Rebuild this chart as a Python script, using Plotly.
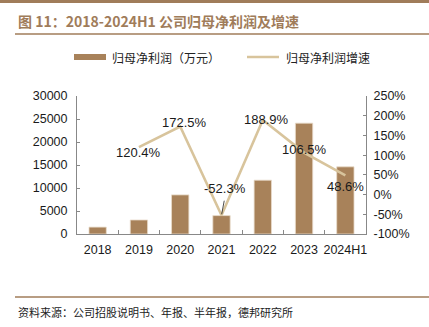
import plotly.graph_objects as go

categories = ["2018", "2019", "2020", "2021", "2022", "2023", "2024H1"]
profit = [1500, 3050, 8500, 4000, 11700, 24100, 14600]
growth_cats = ["2019", "2020", "2021", "2022", "2023", "2024H1"]
growth = [120.4, 172.5, -52.3, 188.9, 106.5, 48.6]
growth_labels = ["120.4%", "172.5%", "-52.3%", "188.9%", "106.5%", "48.6%"]
left_ticks = [0, 5000, 10000, 15000, 20000, 25000, 30000]
right_ticks = [-100, -50, 0, 50, 100, 150, 200, 250]

W, H = 429, 327
L, R, T, B = 77, 366, 96, 234

def px(x):
    return (x - L) / (R - L)

def py(y):
    return (B - y) / (B - T)

BAR = "#A8825A"
LINE = "#D8C49C"
BROWN = "#A07C5A"
CJK = "Noto Sans CJK SC"
LAT = "Liberation Sans, Arial"

fig = go.Figure()
fig.add_trace(go.Bar(x=categories, y=profit, marker=dict(color=BAR, line=dict(color="#E8DCCB", width=0.8)),
                     width=0.42, yaxis="y", name="归母净利润（万元）"))
fig.add_trace(go.Scatter(x=growth_cats, y=growth, mode="lines", line=dict(color=LINE, width=2.6),
                         yaxis="y2", name="归母净利润增速"))

# data labels (annotation x given as category index)
offsets = {"120.4%": (0, -5), "172.5%": (4, 4), "-52.3%": (3, 27), "188.9%": (4, 1),
           "106.5%": (0, 3), "48.6%": (0, -11)}
for c, v, t in zip(growth_cats, growth, growth_labels):
    dx, dy = offsets[t]
    fig.add_annotation(x=categories.index(c), y=v, xref="x", yref="y2", text=t, showarrow=False,
                       xshift=dx, yshift=dy, font=dict(family=LAT, size=13, color="#1a1a1a"))
# leader line for -52.3%
fig.add_annotation(x=categories.index("2021"), y=-52.3, xref="x", yref="y2", text="", showarrow=True,
                   arrowhead=0, arrowwidth=0.8, arrowcolor="#222", ax=3, ay=-16, standoff=1)

fig.update_layout(
    width=W, height=H,
    margin=dict(l=L, r=W - R, t=T, b=H - B, autoexpand=False),
    paper_bgcolor="white", plot_bgcolor="white",
    showlegend=False,
    xaxis=dict(type="category", range=[-0.5, 6.5], showline=True, linecolor="#888", linewidth=1,
               ticks="inside", ticklen=4, tickcolor="#888", tickson="boundaries", tickangle=0,
               ticklabelstandoff=4,
               tickfont=dict(family=LAT, size=12.5, color="#1a1a1a"), showgrid=False),
    yaxis=dict(range=[0, 30000], tickvals=left_ticks, ticktext=[str(v) for v in left_ticks],
               showline=True, linecolor="#888", linewidth=1,
               ticks="inside", ticklen=3, tickcolor="#888", showgrid=False, zeroline=False,
               tickfont=dict(family=LAT, size=12.5, color="#1a1a1a"), ticklabelstandoff=6),
    yaxis2=dict(range=[-100, 250], tickvals=right_ticks, ticktext=[f"{v}%" for v in right_ticks],
                overlaying="y", side="right", showline=True, linecolor="#888", linewidth=1,
                ticks="inside", ticklen=3, tickcolor="#888", showgrid=False, zeroline=False,
                tickfont=dict(family=LAT, size=12.5, color="#1a1a1a"), ticklabelstandoff=4),
)

shapes = []
shapes.append(dict(type="rect", xref="paper", yref="paper", x0=px(0), x1=px(W), y0=py(0), y1=py(3),
                   fillcolor=BROWN, line=dict(width=0)))
shapes.append(dict(type="line", xref="paper", yref="paper", x0=px(15), x1=px(W), y0=py(34), y1=py(34),
                   line=dict(color=BROWN, width=1.5)))
shapes.append(dict(type="line", xref="paper", yref="paper", x0=px(15), x1=px(W), y0=py(297), y1=py(297),
                   line=dict(color=BROWN, width=1.5)))
shapes.append(dict(type="rect", xref="paper", yref="paper", x0=px(74), x1=px(106), y0=py(54), y1=py(60),
                   fillcolor=BAR, line=dict(width=0)))
shapes.append(dict(type="line", xref="paper", yref="paper", x0=px(247), x1=px(279), y0=py(57), y1=py(57),
                   line=dict(color=LINE, width=2.5)))
fig.update_layout(shapes=shapes)

fig.add_annotation(xref="paper", yref="paper", x=px(16), y=py(21), xanchor="left", yanchor="middle",
                   text="<b>图 11：2018-2024H1 公司归母净利润及增速</b>", showarrow=False,
                   font=dict(family=CJK, size=14, color=BROWN))
fig.add_annotation(xref="paper", yref="paper", x=px(110), y=py(57), xanchor="left", yanchor="middle",
                   text="归母净利润（万元）", showarrow=False, font=dict(family=CJK, size=12, color="#222"))
fig.add_annotation(xref="paper", yref="paper", x=px(284), y=py(57), xanchor="left", yanchor="middle",
                   text="归母净利润增速", showarrow=False, font=dict(family=CJK, size=12, color="#222"))
fig.add_annotation(xref="paper", yref="paper", x=px(16), y=py(312), xanchor="left", yanchor="middle",
                   text="资料来源：公司招股说明书、年报、半年报，德邦研究所", showarrow=False,
                   font=dict(family=CJK, size=11, color="#222"))

fig.write_html("out.html")
